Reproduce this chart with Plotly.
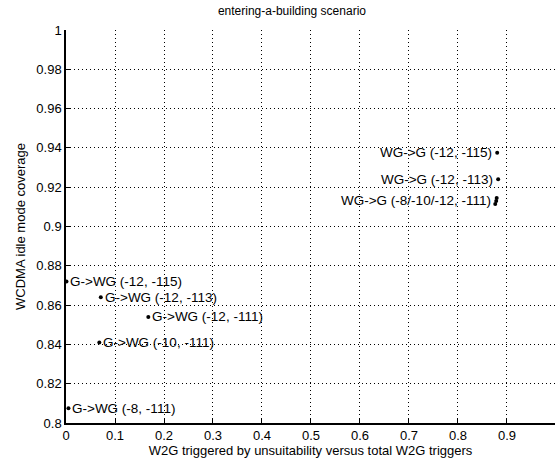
import plotly.graph_objects as go

# Data
wg_labels = ["WG->G (-12, -115)", "WG->G (-12, -113)", "WG->G (-8/-10/-12, -111)"]
wg_x = [0.880, 0.882, 0.878]
wg_y = [0.9375, 0.924, 0.913]
wg_extra_x = [0.876, 0.879]
wg_extra_y = [0.9115, 0.9145]

g_labels = ["G->WG (-12, -115)", "G->WG (-12, -113)", "G->WG (-12, -111)",
            "G->WG (-10, -111)", "G->WG (-8, -111)"]
g_x = [0.001, 0.071, 0.168, 0.068, 0.005]
g_y = [0.872, 0.864, 0.854, 0.841, 0.8075]

x_ticks = [0, 0.1, 0.2, 0.3, 0.4, 0.5, 0.6, 0.7, 0.8, 0.9]
y_ticks = [0.8, 0.82, 0.84, 0.86, 0.88, 0.9, 0.92, 0.94, 0.96, 0.98, 1.0]
y_tick_text = ["0.8", "0.82", "0.84", "0.86", "0.88", "0.9", "0.92", "0.94", "0.96", "0.98", "1"]

FONT = "Liberation Sans"

fig = go.Figure()
fig.add_trace(go.Scatter(x=wg_x + wg_extra_x, y=wg_y + wg_extra_y, mode="markers",
                         marker=dict(color="black", size=4), showlegend=False, cliponaxis=False))
fig.add_trace(go.Scatter(x=g_x, y=g_y, mode="markers",
                         marker=dict(color="black", size=4), showlegend=False, cliponaxis=False))

for lab, x, y in zip(wg_labels, wg_x, wg_y):
    fig.add_annotation(x=x, y=y, text=lab, showarrow=False, xanchor="right",
                       xshift=-3, font=dict(family=FONT, size=13.5, color="black"))
for lab, x, y in zip(g_labels, g_x, g_y):
    fig.add_annotation(x=x, y=y, text=lab, showarrow=False, xanchor="left",
                       xshift=2, font=dict(family=FONT, size=13.5, color="black"))

fig.update_layout(
    width=555, height=463,
    margin=dict(l=66, r=0, t=30, b=40),
    paper_bgcolor="white", plot_bgcolor="white",
    font=dict(family=FONT, size=12, color="black"),
    title=dict(text="entering-a-building scenario", x=0.526, xref="container",
               y=0.985, yref="container", yanchor="top",
               font=dict(family=FONT, size=12, color="black")),
    showlegend=False,
)
fig.update_xaxes(range=[0, 0.998], tickvals=x_ticks, ticktext=[str(v) if v else "0" for v in x_ticks],
                 showgrid=True, gridcolor="black", griddash="1px,3px", gridwidth=1,
                 showline=True, linecolor="black", linewidth=1.5,
                 ticks="inside", ticklen=5, tickcolor="black", zeroline=False,
                 tickfont=dict(family=FONT, size=13),
                 title=dict(text="W2G triggered by unsuitability versus total W2G triggers",
                            font=dict(family=FONT, size=13), standoff=4))
fig.update_yaxes(range=[0.8, 1.0], tickvals=y_ticks, ticktext=y_tick_text,
                 showgrid=True, gridcolor="black", griddash="1px,3px", gridwidth=1,
                 showline=True, linecolor="black", linewidth=1.5,
                 ticks="inside", ticklen=5, tickcolor="black", zeroline=False,
                 tickfont=dict(family=FONT, size=13),
                 title=dict(text="WCDMA idle mode coverage", font=dict(family=FONT, size=13), standoff=8))

fig.write_html("out.html")
